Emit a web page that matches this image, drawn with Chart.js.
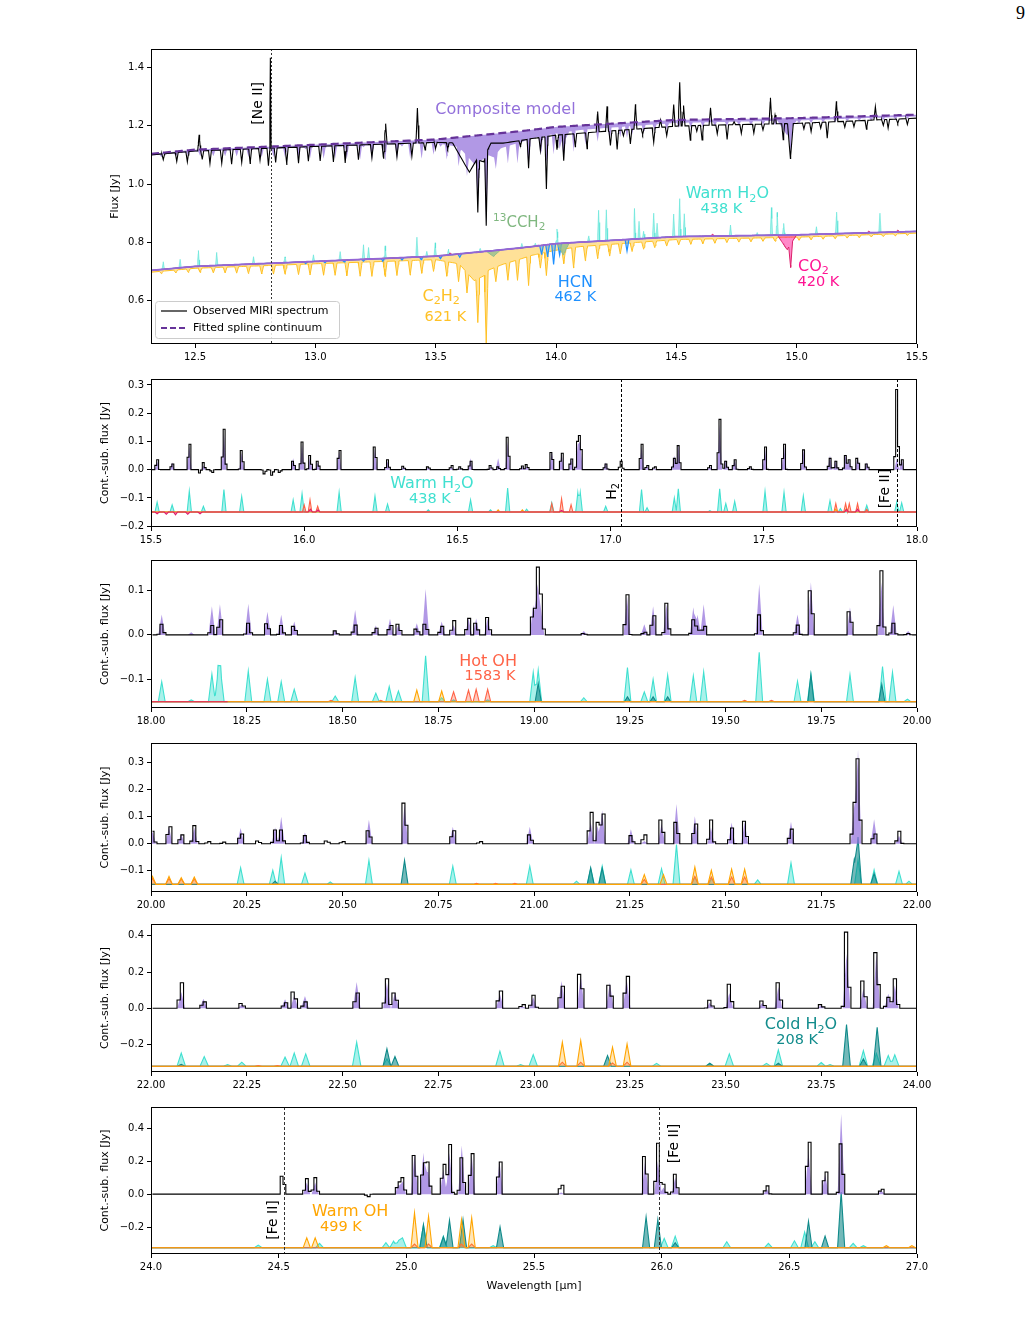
<!DOCTYPE html>
<html><head><meta charset="utf-8">
<script src="https://cdn.jsdelivr.net/npm/chart.js@4.4.1/dist/chart.umd.min.js"></script>
<style>
html,body{margin:0;padding:0;background:#fff;}
body{width:1033px;height:1317px;position:relative;overflow:hidden;}
canvas{position:absolute;left:0;}
#pg{position:absolute;left:1016px;top:3px;font:18px "Liberation Serif";color:#000;}
</style></head><body>
<div id="pg">9</div>
<canvas id="c1"></canvas><canvas id="c2"></canvas><canvas id="c3"></canvas>
<canvas id="c4"></canvas><canvas id="c5"></canvas><canvas id="c6"></canvas>
<script>
// ======================= DATA =======================
// ---- Panel 1 (12.3 - 15.5 um), absolute flux ----
const p1XRange = [12.317, 15.5];
const p1XTicks = [12.5, 13.0, 13.5, 14.0, 14.5, 15.0, 15.5];
const p1XLabels = ['12.5','13.0','13.5','14.0','14.5','15.0','15.5'];
const p1YRange = [0.452, 1.463];
const p1YTicks = [0.6, 0.8, 1.0, 1.2, 1.4];
const p1YLabels = ['0.6','0.8','1.0','1.2','1.4'];
// fitted spline continuum knots
const p1ContWave = [12.317, 12.5, 13.0, 13.5, 13.85, 14.0, 14.5, 15.0, 15.5];
const p1ContFlux = [1.104, 1.118, 1.135, 1.153, 1.181, 1.196, 1.220, 1.226, 1.238];
const p1ModelShift = 0.4;   // model components are shown 0.4 Jy lower
// observed: pseudo-continuum depression below spline [wave, depth]
const p1ObsDepWave = [12.317, 13.0, 13.5, 13.6, 13.78, 13.9, 14.2, 14.6, 15.0, 15.5];
const p1ObsDep     = [0.004, 0.006, 0.010, 0.020, 0.035, 0.030, 0.025, 0.020, 0.018, 0.012];
// observed lines [centre, amplitude (neg = absorption), half-width]
const p1ObsLines = [
 [12.368,-0.02],[12.424,-0.03],[12.468,-0.035],[12.517,0.055],[12.53,-0.03],[12.562,-0.045],[12.611,-0.045],
 [12.652,-0.05],[12.694,-0.045],[12.729,-0.05],[12.770,-0.04],[12.805,-0.06],[12.813,0.31,0.003],[12.835,-0.05],
 [12.881,-0.06],[12.930,-0.055],[12.971,-0.05],[13.020,-0.05],[13.075,-0.055],[13.124,-0.06],[13.179,-0.05],
 [13.235,-0.045],[13.283,-0.05],[13.292,0.07],[13.339,-0.045],[13.401,-0.045],[13.424,0.12],[13.456,-0.025],
 [13.50,-0.02],[13.55,-0.02],
 [13.64,-0.10,0.07],[13.70,-0.05,0.03],[13.675,-0.18],[13.71,-0.25],
 [13.852,-0.02],[13.886,-0.10],[13.935,-0.045],[13.96,-0.18],[14.004,-0.05],[14.032,-0.09],[14.08,-0.045],
 [14.129,-0.055],[14.173,0.07],[14.212,0.085],[14.226,-0.05],[14.254,-0.065],[14.28,-0.02],[14.309,-0.05],
 [14.33,0.085],[14.36,-0.02],[14.406,-0.05],[14.434,0.025],[14.46,-0.03],[14.489,0.075],[14.514,0.15],[14.53,0.07],
 [14.558,-0.05],[14.585,-0.02],[14.607,-0.05],[14.642,0.06],[14.67,-0.03],[14.711,-0.05],[14.74,0.01],[14.77,-0.03],
 [14.822,-0.03],[14.86,-0.02],[14.891,0.09],[14.91,0.03],[14.944,-0.055],[14.974,-0.12,0.012],[15.03,-0.02],
 [15.06,-0.03],[15.1,-0.02],[15.127,-0.055],[15.165,0.07],[15.2,-0.02],[15.238,-0.02],[15.29,-0.03],[15.327,0.045],
 [15.36,-0.02],[15.38,-0.03],[15.42,-0.015],[15.46,-0.02]
];
// C2H2 (621 K) absorption: smooth floor + lines [centre, depth, half-width]
const p1C2H2FloorWave = [12.317, 13.0, 13.5, 13.58, 13.70, 13.78, 13.90, 14.10, 14.50, 15.5];
const p1C2H2Floor     = [0.006, 0.008, 0.012, 0.030, 0.070, 0.050, 0.030, 0.015, 0.010, 0.006];
const p1C2H2Lines = [
 [12.36,0.008],[12.42,0.010],[12.472,0.012],[12.521,0.015],[12.576,0.018],[12.625,0.02],[12.673,0.022],[12.722,0.025],
 [12.777,0.028],[12.826,0.03],[12.874,0.032],[12.93,0.035],[12.978,0.038],[13.034,0.04],[13.082,0.042],[13.131,0.045],
 [13.186,0.048],[13.235,0.05],[13.29,0.052],[13.339,0.05],[13.394,0.05],[13.442,0.045],[13.491,0.04],[13.546,0.05],
 [13.595,0.06],[13.66,0.04,0.06],[13.63,0.07],[13.675,0.15],[13.71,0.24],
 [13.75,0.05],[13.80,0.06],[13.84,0.07],[13.886,0.10],[13.935,0.05],[13.96,0.08],[14.032,0.05],[14.073,0.07],
 [14.122,0.05],[14.173,0.045],[14.223,0.04],[14.267,0.035],[14.316,0.03],[14.364,0.025],[14.41,0.022],[14.46,0.02],
 [14.51,0.018],[14.56,0.017],[14.61,0.016],[14.66,0.015],[14.71,0.014],[14.76,0.013],[14.81,0.013],[14.86,0.012],
 [14.91,0.012],[15.01,0.011],[15.06,0.011],[15.11,0.010],[15.16,0.010],[15.21,0.009],[15.26,0.009],[15.31,0.008],
 [15.36,0.008],[15.41,0.007],[15.46,0.007]
];
const p1HCNLines = [
 [12.96,0.006],[13.04,0.006],[13.12,0.006],[13.20,0.006],[13.28,0.008],[13.36,0.008],[13.44,0.01],[13.52,0.01],
 [13.60,0.012],[13.94,0.03],[13.965,0.04],[13.99,0.07],[14.015,0.04],[14.295,0.04]
];
const p1C13Lines = [[13.74,0.02,0.03],[14.03,0.04,0.025]];
const p1CO2Lines = [[14.96,0.05,0.04],[14.975,0.08,0.008],[13.56,-0.006],[14.65,-0.006],[15.3,-0.006],[15.42,-0.006]];
const p1H2OLines = [
 [12.368,0.026],[12.438,0.029],[12.514,0.054],[12.59,0.045],[12.743,0.025],[12.874,0.02],[12.992,0.023],[13.103,0.03],
 [13.2,0.05],[13.221,0.04],[13.29,0.043],[13.422,0.068],[13.463,0.018],[13.498,0.046],[13.553,0.02],[13.685,0.012],
 [13.858,0.015],[13.914,0.01],[14.004,0.05],[14.136,0.02],[14.177,0.106],[14.209,0.106],[14.326,0.105],[14.345,0.06],
 [14.364,0.025],[14.406,0.085],[14.42,0.05],[14.489,0.078],[14.514,0.13],[14.533,0.078],[14.725,0.037],[14.836,0.01],
 [14.895,0.095],[14.919,0.078],[14.946,0.04],[15.082,0.026],[15.166,0.074],[15.346,0.066]
];
const p1NeII = 12.814;

// ---- Panels 2-6: continuum-subtracted. lines: [centre, observed peak, model peak]
const p2XRange = [15.5, 18.0];
const p2XTicks = [15.5, 16.0, 16.5, 17.0, 17.5, 18.0];
const p2XLabels = ['15.5','16.0','16.5','17.0','17.5','18.0'];
const p2YRange = [-0.203, 0.321];
const p2YTicks = [-0.2, -0.1, 0.0, 0.1, 0.2, 0.3];
const p2YLabels = ['\u22120.2','\u22120.1','0.0','0.1','0.2','0.3'];
const p2Lines = [
 [15.520,0.035,0.03],[15.569,0.02,0.025],[15.625,0.09,0.085],[15.66,-0.012,0],[15.671,0.025,0.015],[15.70,-0.01,0],
 [15.738,0.143,0.13],[15.796,0.068,0.06],[15.87,-0.015,0],[15.895,-0.02,0],[15.92,-0.01,0],[15.964,0.03,0.04],
 [15.993,0.098,0.09],[16.019,0.05,0.045],[16.044,0.03,0.025],[16.114,0.068,0.065],[16.231,0.08,0.075],
 [16.272,0.035,0.03],[16.323,0.012,0.01],[16.405,0.01,0.008],[16.481,0.015,0.01],[16.508,0.01,0.005],
 [16.543,0.03,0.04],[16.608,0.015,0.01],[16.633,0.01,0.04],[16.664,0.115,0.1],[16.712,0.013,0.01],
 [16.726,0.018,0.012],[16.808,0.061,0.065],[16.840,0.058,0.06],[16.871,0.038,0.04],[16.893,0.1,0.09],
 [16.901,0.121,0.1],[16.984,0.02,0.025],[17.034,0.03,0.0],[17.101,0.09,0.085],[17.119,0.015,0.012],
 [17.143,0.01,0.005],[17.208,0.04,0.05],[17.221,0.085,0.09],[17.324,0.015,0.01],[17.356,0.178,0.16],
 [17.376,0.03,0.035],[17.405,0.035,0.035],[17.455,0.01,0.005],[17.504,0.08,0.075],[17.566,0.09,0.085],
 [17.629,0.07,0.07],[17.716,0.04,0.05],[17.735,0.03,0.035],[17.767,0.05,0.055],[17.779,0.035,0.035],
 [17.806,0.04,0.045],[17.836,0.02,0.025],[17.934,0.284,0.04],[17.950,0.035,0.04]
];
const p2WarmH2O = [
 [15.520,0.035],[15.569,0.025],[15.625,0.074],[15.671,0.02],[15.738,0.08],[15.796,0.055],[15.964,0.043],[15.993,0.065],
 [16.114,0.07],[16.231,0.056],[16.272,0.028],[16.405,0.008],[16.543,0.043],[16.608,0.008],[16.664,0.085],[16.726,0.01],
 [16.808,0.033],[16.893,0.068],[16.901,0.07],[16.984,0.02],[17.101,0.08],[17.119,0.015],[17.208,0.05],[17.221,0.082],
 [17.324,0.005],[17.356,0.082],[17.376,0.03],[17.405,0.038],[17.504,0.073],[17.566,0.07],[17.629,0.057],[17.716,0.04],
 [17.750,0.012],[17.836,0.024],[17.934,0.035],[17.950,0.032]
];
const p2HotOH = [[16.00,0.025],[16.019,0.043],[16.044,0.02],[16.808,0.03],[16.840,0.047],[16.871,0.026],[17.735,0.03],[17.767,0.03],[17.779,0.03],[17.806,0.03],[17.836,0.01]];
const p2WarmOH = [[16.633,0.008],[16.712,0.008],[17.735,0.01],[17.77,0.012]];
const p2CO2 = [[15.52,-0.006],[15.55,-0.008],[15.58,-0.01],[15.62,-0.008],[15.66,-0.006],[16.02,0.01],[16.045,0.008],[16.84,0.006],[17.77,0.01],[17.806,0.01]];
const p2VLines = [17.035, 17.936];

const p3XRange = [18.0, 20.0];
const p3XTicks = [18.0, 18.25, 18.5, 18.75, 19.0, 19.25, 19.5, 19.75, 20.0];
const p3XLabels = ['18.00','18.25','18.50','18.75','19.00','19.25','19.50','19.75','20.00'];
const p3YRange = [-0.164, 0.168];
const p3YTicks = [-0.1, 0.0, 0.1];
const p3YLabels = ['\u22120.1','0.0','0.1'];
const p3Lines = [
 [18.028,0.024,0.046],[18.105,0.0,0.006],[18.159,0.021,0.064],[18.18,0.034,0.069],[18.254,0.026,0.07],[18.304,0.025,0.052],
 [18.34,0.021,0.045],[18.374,0.019,0.03],[18.481,0.009,0.011],[18.533,0.022,0.056],[18.587,0.015,0.021],[18.624,0.021,0.036],
 [18.646,0.024,0.024],[18.694,0.013,0.026],[18.717,0.024,0.103],[18.759,0.019,0.03],[18.79,0.032,0.022],[18.829,0.037,0.037],
 [18.849,0.026,0.037],[18.879,0.039,0.037],[18.998,0.04,0.067],[19.009,0.152,0.114],[19.018,0.091,0.06],[19.13,0.003,0.009],
 [19.243,0.09,0.086],[19.288,0.006,0.024],[19.311,0.043,0.064],[19.346,0.071,0.069],[19.416,0.034,0.062],[19.427,0.02,0.045],
 [19.443,0.019,0.069],[19.588,0.045,0.114],[19.688,0.022,0.046],[19.723,0.099,0.118],[19.825,0.052,0.062],[19.907,0.144,0.118],
 [19.938,0.026,0.067],[19.977,0.003,0.009]
];
const p3WarmH2O = [
 [18.028,0.045],[18.105,0.004],[18.159,0.062],[18.175,0.067],[18.182,0.066],[18.254,0.069],[18.304,0.05],[18.34,0.045],
 [18.374,0.028],[18.481,0.013],[18.533,0.054],[18.587,0.019],[18.622,0.034],[18.646,0.024],[18.717,0.103],[18.759,0.009],
 [18.79,0.004],[18.879,0.004],[18.998,0.066],[19.011,0.071],[19.13,0.009],[19.244,0.077],[19.288,0.022],[19.311,0.05],
 [19.349,0.06],[19.416,0.058],[19.443,0.067],[19.588,0.111],[19.688,0.046],[19.723,0.061],[19.825,0.061],[19.910,0.079],
 [19.936,0.066],[19.975,0.006]
];
const p3ColdH2O = [[19.011,0.041],[19.244,0.011],[19.311,0.011],[19.349,0.011],[19.723,0.061],[19.908,0.039]];
const p3WarmOH = [[18.694,0.026],[18.759,0.024]];
const p3HotOH = [[18.47,0.003],[18.6,0.003],[18.79,0.022],[18.829,0.026],[18.849,0.028],[18.879,0.028],[19.55,0.003],[19.62,0.003]];
const p3CO2 = [];
const p3CO2End = 18.2;

const p4XRange = [20.0, 22.0];
const p4XTicks = [20.0, 20.25, 20.5, 20.75, 21.0, 21.25, 21.5, 21.75, 22.0];
const p4XLabels = ['20.00','20.25','20.50','20.75','21.00','21.25','21.50','21.75','22.00'];
const p4YRange = [-0.178, 0.372];
const p4YTicks = [-0.1, 0.0, 0.1, 0.2, 0.3];
const p4YLabels = ['\u22120.1','0.0','0.1','0.2','0.3'];
const p4Lines = [
 [20.004,0.046,0.045],[20.047,0.063,0.063],[20.079,0.033,0.035],[20.113,0.067,0.06],[20.15,0.008,0],[20.19,0.006,0],
 [20.234,0.036,0.058],[20.28,0.01,0],[20.324,0.051,0.06],[20.34,0.051,0.1],[20.402,0.03,0.042],[20.46,0.01,0],[20.5,0.008,0],
 [20.569,0.048,0.089],[20.662,0.15,0.145],[20.788,0.048,0.063],[20.86,0.008,0],[20.989,0.033,0.063],[21.148,0.116,0.08],
 [21.166,0.079,0.067],[21.178,0.11,0.124],[21.253,0.03,0.054],[21.288,0.033,0.01],[21.333,0.088,0.075],[21.372,0.079,0.147],
 [21.42,0.073,0.102],[21.462,0.088,0.06],[21.516,0.058,0.079],[21.55,0.083,0.08],[21.671,0.054,0.081],[21.836,0.153,0.15],
 [21.846,0.314,0.347],[21.888,0.036,0.091],[21.953,0.046,0.03]
];
const p4WarmH2O = [
 [20.234,0.062],[20.318,0.052],[20.34,0.099],[20.402,0.042],[20.468,0.009],[20.569,0.089],[20.788,0.067],[20.989,0.067],
 [21.111,0.012],[21.148,0.058],[21.178,0.067],[21.253,0.054],[21.333,0.058],[21.372,0.147],[21.42,0.027],[21.464,0.021],
 [21.584,0.017],[21.671,0.079],[21.846,0.09],[21.888,0.054],[21.953,0.048],[21.979,0.012]
];
const p4ColdH2O = [[20.324,0.012],[20.662,0.089],[21.148,0.062],[21.178,0.06],[21.836,0.09],[21.846,0.175],[21.888,0.04]];
const p4WarmOH = [[20.004,0.03],[20.047,0.03],[20.079,0.025],[20.113,0.027],[21.288,0.036],[21.338,0.036],[21.42,0.064],[21.463,0.052],[21.516,0.056],[21.55,0.056]];
const p4HotOH = [[20.004,0.022],[20.047,0.022],[20.079,0.02],[20.113,0.02],[20.85,0.004],[20.9,0.004],[20.95,0.004],[21.288,0.018],[21.42,0.03],[21.463,0.027],[21.516,0.027],[21.55,0.027]];

const p5XRange = [22.0, 24.0];
const p5XTicks = [22.0, 22.25, 22.5, 22.75, 23.0, 23.25, 23.5, 23.75, 24.0];
const p5XLabels = ['22.00','22.25','22.50','22.75','23.00','23.25','23.50','23.75','24.00'];
const p5YRange = [-0.352, 0.465];
const p5YTicks = [-0.2, 0.0, 0.2, 0.4];
const p5YLabels = ['\u22120.2','0.0','0.2','0.4'];
const p5Lines = [
 [22.079,0.141,0.09],[22.137,0.035,0.053],[22.237,0.026,0.02],[22.35,0.03,0.05],[22.374,0.09,0.07],[22.402,0.035,0.068],
 [22.537,0.084,0.145],[22.616,0.163,0.14],[22.637,0.084,0.09],[22.911,0.095,0.08],[22.97,0.02,0.01],[22.998,0.072,0.06],
 [23.072,0.121,0.15],[23.122,0.187,0.18],[23.198,0.127,0.14],[23.242,0.176,0.16],[23.459,0.044,0.03],[23.51,0.132,0.084],
 [23.596,0.04,0.03],[23.638,0.141,0.117],[23.749,0.02,0.015],[23.816,0.42,0.301],[23.86,0.15,0.108],[23.894,0.307,0.3],
 [23.925,0.06,0.08],[23.942,0.163,0.127]
];
const p5WarmH2O = [
 [22.079,0.072],[22.139,0.053],[22.2,0.009],[22.237,0.022],[22.35,0.05],[22.374,0.072],[22.404,0.068],[22.537,0.132],
 [22.616,0.04],[22.911,0.083],[22.965,0.009],[22.998,0.064],[23.32,0.016],[23.459,0.016],[23.51,0.068],[23.607,0.016],
 [23.638,0.09],[23.75,0.02],[23.773,0.009],[23.86,0.086],[23.894,0.07],[23.925,0.059],[23.942,0.063]
];
const p5ColdH2O = [[22.079,0.01],[22.616,0.096],[22.637,0.053],[23.192,0.059],[23.459,0.016],[23.638,0.016],[23.816,0.23],[23.86,0.04],[23.896,0.215]];
const p5WarmOH = [[23.074,0.132],[23.122,0.141],[23.205,0.105],[23.243,0.123]];
const p5HotOH = [[22.28,0.004],[22.33,0.004],[23.074,0.022],[23.122,0.022],[23.205,0.018],[23.243,0.022]];

const p6XRange = [24.0, 27.0];
const p6XTicks = [24.0, 24.5, 25.0, 25.5, 26.0, 26.5, 27.0];
const p6XLabels = ['24.0','24.5','25.0','25.5','26.0','26.5','27.0'];
const p6YRange = [-0.362, 0.527];
const p6YTicks = [-0.2, 0.0, 0.2, 0.4];
const p6YLabels = ['\u22120.2','0.0','0.2','0.4'];
const p6Lines = [
 [24.516,0.108,0.0],[24.61,0.094,0.07],[24.643,0.1,0.07],[24.85,-0.015,0],[24.969,0.074,0.06],[24.985,0.1,0.08],
 [25.032,0.234,0.244],[25.067,0.19,0.25],[25.084,0.194,0.17],[25.145,0.18,0.15],[25.169,0.3,0.25],[25.217,0.22,0.294],
 [25.256,0.245,0.24],[25.365,0.194,0.2],[25.606,0.054,0.01],[25.935,0.228,0.2],[25.985,0.308,0.2],[26.007,0.06,0.04],
 [26.053,0.12,0.1],[26.412,0.05,0.03],[26.575,0.314,0.26],[26.64,0.134,0.12],[26.703,0.304,0.485],[26.86,0.03,0.02]
];
const p6WarmH2O = [
 [24.42,0.016],[24.66,0.026],[24.92,0.03],[24.95,0.04],[24.97,0.045],[24.985,0.06],[25.067,0.136],[25.145,0.07],[25.34,0.012],
 [26.010,0.056],[26.053,0.07],[26.255,0.036],[26.418,0.026],[26.52,0.042],[26.56,0.094],[26.60,0.036],[26.75,0.026],[26.79,0.012]
];
const p6ColdH2O = [[25.067,0.14],[25.145,0.066],[25.169,0.166],[25.222,0.17],[25.367,0.126],[25.939,0.186],[25.985,0.17],[26.053,0.03],[26.575,0.16],[26.64,0.07],[26.703,0.336]];
const p6WarmOH = [[24.61,0.06],[24.643,0.06],[25.032,0.21],[25.087,0.19],[25.216,0.17],[25.256,0.18],[26.88,0.012],[26.98,0.012]];
const p6HotOH = [[25.032,0.022],[25.087,0.022],[25.216,0.022],[25.256,0.022]];
const p6VLines = [24.519, 25.988];

// ======================= HELPERS =======================
const FONT = '"DejaVu Sans"';
function interp(xs, ys, x){
  if (x <= xs[0]) return ys[0];
  for (let i = 1; i < xs.length; i++) if (x <= xs[i]) { const t = (x - xs[i-1])/(xs[i]-xs[i-1]); return ys[i-1] + t*(ys[i]-ys[i-1]); }
  return ys[ys.length-1];
}
function lineSum(lines, hw, x){
  let s = 0;
  for (const l of lines){ const w = l[2] || hw; const d = Math.abs(x - l[0]); if (d < w) s += l[1]*(1 - d/w); }
  return s;
}
function breaks(lines, hw){ const a = []; for (const l of lines){ const w = l[2] || hw; a.push(l[0]-w, l[0], l[0]+w); } return a; }
function uniq(arrs, lo, hi){
  const a = [].concat(...arrs).filter(v => v >= lo && v <= hi); a.push(lo, hi); a.sort((p,q)=>p-q);
  const o = []; for (const v of a) if (!o.length || v - o[o.length-1] > 1e-7) o.push(v); return o;
}
function stepObs(lines, hw, bin, lo, hi){
  const pts = [];
  for (let a = lo; a < hi - 1e-9; a += bin){
    const b = Math.min(a + bin, hi), m = (a + b)/2;
    let v = lineSum(lines, hw, m);
    for (const l of lines) if (l[0] >= a && l[0] < b){ const w = lineSum(lines, hw, l[0]); if (Math.abs(w) > Math.abs(v)) v = w; }
    pts.push({x:m, y:v});
  }
  return pts;
}

// ======================= STYLES =======================
const COL = {
  obs:'#000000', model:'rgba(147,112,219,0.72)', cont:'#663399', lowCont:'#9466d6',
  wH2O:['#40E0D0','rgba(64,224,208,0.45)'], cH2O:['#0f8a8a','rgba(0,128,128,0.55)'],
  wOH:['#FFA500','rgba(255,165,0,0.28)'], hOH:['#FF6347','rgba(255,99,71,0.35)'],
  co2:['#DC1F6A','rgba(255,20,147,0.5)'], c2h2:['#FFC125','rgba(255,196,50,0.5)'],
  hcn:['#1E90FF','rgba(30,144,255,0.35)'], c13:['#8FBC8F','rgba(143,188,143,0.75)']
};

const decoPlugin = {
  id:'deco',
  afterDraw(chart, args, o){
    const {ctx, chartArea:a} = chart; const xs = chart.scales.x, ys = chart.scales.y;
    ctx.save();
    (o.vlines || []).forEach(v => {
      const px = Math.round(xs.getPixelForValue(v.x)) + 0.5;
      ctx.strokeStyle = v.color; ctx.lineWidth = 1; ctx.setLineDash(v.dash);
      ctx.beginPath(); ctx.moveTo(px, a.top); ctx.lineTo(px, a.bottom); ctx.stroke();
    });
    ctx.setLineDash([]);
    ctx.strokeStyle = '#000'; ctx.lineWidth = 1;
    ctx.strokeRect(a.left + 0.5, a.top + 0.5, a.right - a.left - 1, a.bottom - a.top - 1);
    (o.labels || []).forEach(L => {
      const px = xs.getPixelForValue(L.x), py = ys.getPixelForValue(L.y);
      ctx.save(); ctx.translate(px, py); if (L.rot) ctx.rotate(-Math.PI/2);
      rich(ctx, L.parts, 0, 0, L.size, L.color); ctx.restore();
    });
    if (o.legend){
      const x0 = a.left + 4, y0 = a.bottom - 43, w = 184, h = 37;
      ctx.fillStyle = 'rgba(255,255,255,0.85)'; ctx.strokeStyle = '#cccccc'; ctx.lineWidth = 1;
      ctx.beginPath(); ctx.roundRect(x0 + 0.5, y0 + 0.5, w, h, 3); ctx.fill(); ctx.stroke();
      o.legend.forEach((e, i) => {
        const yy = y0 + 10 + i*17;
        ctx.strokeStyle = e.color; ctx.lineWidth = e.width; ctx.setLineDash(e.dash);
        ctx.beginPath(); ctx.moveTo(x0 + 6, yy); ctx.lineTo(x0 + 32, yy); ctx.stroke(); ctx.setLineDash([]);
        ctx.fillStyle = '#000'; ctx.font = '11px ' + FONT; ctx.textAlign = 'left'; ctx.textBaseline = 'middle';
        ctx.fillText(e.text, x0 + 38, yy);
      });
    }
    ctx.restore();
  }
};
Chart.register(decoPlugin);

function rich(ctx, parts, cx, cy, size, color){
  const segs = parts.map(([t, m]) => { const s = m ? size*0.7 : size; ctx.font = s + 'px ' + FONT; return {t, m, s, w: ctx.measureText(t).width}; });
  const W = segs.reduce((p, g) => p + g.w, 0);
  let xx = cx - W/2; const base = cy + size*0.36;
  ctx.fillStyle = color; ctx.textAlign = 'left'; ctx.textBaseline = 'alphabetic';
  segs.forEach(g => { ctx.font = g.s + 'px ' + FONT; const dy = g.m === 'sub' ? size*0.22 : g.m === 'sup' ? -size*0.38 : 0; ctx.fillText(g.t, xx, base + dy); xx += g.w; });
}

function scalesFor(xr, xt, xl, yr, yt, yl, ytitle, ytp, xh, xtitle){
  const tickFont = {family:'DejaVu Sans', size:10};
  return {
    x: { type:'linear', min:xr[0], max:xr[1],
      afterBuildTicks: s => { s.ticks = xt.map(v => ({value:v})); },
      afterFit: s => { s.height = xh; },
      ticks: { callback: v => xl[xt.indexOf(v)], autoSkip:false, maxRotation:0, padding:3, color:'#000', font:tickFont },
      grid: { display:true, drawOnChartArea:false, drawTicks:true, tickLength:4, color:'#000', lineWidth:1 },
      border: { display:false },
      title: xtitle ? { display:true, text:xtitle, color:'#000', font:{family:'DejaVu Sans', size:11}, padding:{top:0, bottom:5} } : {display:false}
    },
    y: { type:'linear', min:yr[0], max:yr[1],
      afterBuildTicks: s => { s.ticks = yt.map(v => ({value:v})); },
      afterFit: s => { s.width = 151; },
      ticks: { callback: v => yl[yt.indexOf(v)], autoSkip:false, padding:3, color:'#000', font:tickFont },
      grid: { display:true, drawOnChartArea:false, drawTicks:true, tickLength:4, color:'#000', lineWidth:1 },
      border: { display:false },
      title: { display:true, text:ytitle, color:'#000', font:{family:'DejaVu Sans', size:11}, padding:{top:ytp, bottom:0} }
    }
  };
}

function makeChart(id, plotTop, plotBottom, xh, datasets, scales, deco){
  const c = document.getElementById(id);
  const H = (plotBottom - plotTop) + 10 + xh;
  c.width = 1033; c.height = H; c.style.top = (plotTop - 10) + 'px'; c.style.width = '1033px'; c.style.height = H + 'px';
  return new Chart(c, { type:'line', data:{datasets},
    options:{ responsive:false, animation:false, devicePixelRatio:1, parsing:false, normalized:true, events:[],
      layout:{ padding:{ left:0, right:116, top:10, bottom:0 } },
      elements:{ point:{ radius:0 }, line:{ tension:0 } },
      scales, plugins:{ legend:{display:false}, tooltip:{enabled:false}, deco } } });
}

// ======================= PANEL 1 =======================
(function(){
  const hwO = 0.006, hw = 0.008, hwE = 0.005;
  const X = uniq([breaks(p1ObsLines, hwO), breaks(p1C2H2Lines, hw), breaks(p1HCNLines, hw), breaks(p1C13Lines, hw),
                  breaks(p1CO2Lines, hw), breaks(p1H2OLines, hwE), p1ContWave, p1ObsDepWave, p1C2H2FloorWave], p1XRange[0], p1XRange[1]);
  const cont = x => interp(p1ContWave, p1ContFlux, x);
  const c2h2 = x => interp(p1C2H2FloorWave, p1C2H2Floor, x) + lineSum(p1C2H2Lines, hw, x);
  const hcn = x => lineSum(p1HCNLines, hw, x), c13 = x => lineSum(p1C13Lines, hw, x), co2 = x => lineSum(p1CO2Lines, hw, x);
  const h2o = x => lineSum(p1H2OLines, hwE, x);
  const low = x => cont(x) - p1ModelShift;
  const pts = f => X.map(x => ({x, y:f(x)}));
  const ds = [
    {data:pts(cont), borderColor:COL.cont, borderWidth:2.2, borderDash:[8,4], fill:false},
    {data:pts(x => cont(x) - interp(p1ObsDepWave, p1ObsDep, x) + lineSum(p1ObsLines, hwO, x)), borderColor:'#000', borderWidth:1.1, fill:false},
    {data:pts(x => cont(x) - c2h2(x) - hcn(x) - c13(x) - Math.max(co2(x), 0)), borderColor:'rgba(0,0,0,0)', borderWidth:0, backgroundColor:COL.model, fill:0},
    {data:pts(low), borderColor:COL.lowCont, borderWidth:1.8, fill:false},
    {data:pts(x => low(x) - co2(x)), borderColor:COL.co2[0], borderWidth:1, backgroundColor:COL.co2[1], fill:3},
    {data:pts(x => low(x) - c13(x)), borderColor:COL.c13[0], borderWidth:1, backgroundColor:COL.c13[1], fill:3},
    {data:pts(x => low(x) - hcn(x)), borderColor:COL.hcn[0], borderWidth:1.2, backgroundColor:COL.hcn[1], fill:3},
    {data:pts(x => low(x) - c2h2(x)), borderColor:COL.c2h2[0], borderWidth:1, backgroundColor:COL.c2h2[1], fill:3},
    {data:pts(x => low(x) + h2o(x)), borderColor:'rgba(64,224,208,0.6)', borderWidth:0.8, backgroundColor:COL.wH2O[1], fill:3}
  ];
  const deco = {
    vlines:[{x:p1NeII, color:'#333', dash:[2,2]}],
    labels:[
      {x:13.79, y:1.26, parts:[['Composite model','']], size:16, color:'#9370DB'},
      {x:12.758, y:1.277, parts:[['[Ne II]','']], size:14, color:'#000', rot:true},
      {x:13.847, y:0.873, parts:[['13','sup'],['CCH',''],['2','sub']], size:15, color:'#7fb77f'},
      {x:14.712, y:0.972, parts:[['Warm H',''],['2','sub'],['O','']], size:16, color:'#40E0D0'},
      {x:14.687, y:0.918, parts:[['438 K','']], size:14.5, color:'#40E0D0'},
      {x:14.08, y:0.667, parts:[['HCN','']], size:16, color:'#1E90FF'},
      {x:14.08, y:0.616, parts:[['462 K','']], size:14.5, color:'#1E90FF'},
      {x:13.523, y:0.62, parts:[['C',''],['2','sub'],['H',''],['2','sub']], size:16, color:'#FFC125'},
      {x:13.54, y:0.548, parts:[['621 K','']], size:14.5, color:'#FFC125'},
      {x:15.07, y:0.722, parts:[['CO',''],['2','sub']], size:16, color:'#FF1493'},
      {x:15.09, y:0.668, parts:[['420 K','']], size:14.5, color:'#FF1493'}
    ],
    legend:[
      {text:'Observed MIRI spectrum', color:'#000', width:1.2, dash:[]},
      {text:'Fitted spline continuum', color:COL.cont, width:2, dash:[6,3]}
    ]
  };
  makeChart('c1', 49, 344, 30, ds, scalesFor(p1XRange, p1XTicks, p1XLabels, p1YRange, p1YTicks, p1YLabels, 'Flux [Jy]', 109, 30), deco);
})();

// ======================= PANELS 2-6 =======================
function compDS(lines, hw, off, col, lo, hi){
  const X = uniq([breaks(lines, hw)], lo, hi);
  return {data:X.map(x => ({x, y: off + lineSum(lines, hw, x)})), borderColor:col[0], borderWidth:1.1, backgroundColor:col[1], fill:{value:off}};
}
function panel(id, top, bottom, xh, xr, xt, xl, yr, yt, yl, lines, comps, off, bin, hwO, hwM, deco, xtitle){
  const obsL = lines.map(l => [l[0], l[1]]), modL = lines.filter(l => l[2] !== 0).map(l => [l[0], l[2]]);
  const MX = uniq([breaks(modL, hwM)], xr[0], xr[1]);
  const ds = [
    {data:stepObs(obsL, hwO, bin, xr[0], xr[1]), borderColor:'#000', borderWidth:1.1, stepped:'middle', fill:false},
    {data:MX.map(x => ({x, y:lineSum(modL, hwM, x)})), borderColor:'rgba(0,0,0,0)', borderWidth:0, backgroundColor:COL.model, fill:'origin'}
  ];
  comps.forEach(c => ds.push(compDS(c.lines, c.hw, off, c.col, c.lo ?? xr[0], c.hi ?? xr[1])));
  makeChart(id, top, bottom, xh, ds, scalesFor(xr, xt, xl, yr, yt, yl, 'Cont.-sub. flux [Jy]', 99, xh, xtitle), deco);
}

panel('c2', 379, 527, 30, p2XRange, p2XTicks, p2XLabels, p2YRange, p2YTicks, p2YLabels, p2Lines, [
  {lines:p2CO2, hw:0.007, col:COL.co2},
  {lines:p2WarmOH, hw:0.006, col:COL.wOH},
  {lines:p2HotOH, hw:0.006, col:COL.hOH},
  {lines:p2WarmH2O, hw:0.007, col:COL.wH2O}
], -0.15, 0.0062, 0.008, 0.008, {
  vlines: p2VLines.map(v => ({x:v, color:'#000', dash:[3,2]})),
  labels:[
    {x:16.417, y:-0.046, parts:[['Warm H',''],['2','sub'],['O','']], size:16, color:'#40E0D0'},
    {x:16.41, y:-0.099, parts:[['438 K','']], size:14.5, color:'#40E0D0'},
    {x:17.001, y:-0.077, parts:[['H',''],['2','sub']], size:14, color:'#000', rot:true},
    {x:17.892, y:-0.067, parts:[['[Fe II]','']], size:14, color:'#000', rot:true}
  ]});

panel('c3', 560, 708, 30, p3XRange, p3XTicks, p3XLabels, p3YRange, p3YTicks, p3YLabels, p3Lines, [
  {lines:p3CO2, hw:0.008, col:COL.co2, hi:p3CO2End},
  {lines:p3WarmOH, hw:0.008, col:COL.wOH},
  {lines:p3HotOH, hw:0.008, col:COL.hOH},
  {lines:p3ColdH2O, hw:0.008, col:COL.cH2O},
  {lines:p3WarmH2O, hw:0.009, col:COL.wH2O}
], -0.15, 0.0078, 0.009, 0.009, {
  labels:[
    {x:18.88, y:-0.056, parts:[['Hot OH','']], size:16, color:'#FF6347'},
    {x:18.885, y:-0.09, parts:[['1583 K','']], size:14.5, color:'#FF6347'}
  ]});

panel('c4', 743, 892, 30, p4XRange, p4XTicks, p4XLabels, p4YRange, p4YTicks, p4YLabels, p4Lines, [
  {lines:p4WarmOH, hw:0.009, col:COL.wOH},
  {lines:p4HotOH, hw:0.009, col:COL.hOH},
  {lines:p4ColdH2O, hw:0.009, col:COL.cH2O},
  {lines:p4WarmH2O, hw:0.009, col:COL.wH2O}
], -0.15, 0.0078, 0.009, 0.009, {labels:[]});

panel('c5', 924, 1072, 30, p5XRange, p5XTicks, p5XLabels, p5YRange, p5YTicks, p5YLabels, p5Lines, [
  {lines:p5WarmOH, hw:0.01, col:COL.wOH},
  {lines:p5HotOH, hw:0.01, col:COL.hOH},
  {lines:p5ColdH2O, hw:0.01, col:COL.cH2O},
  {lines:p5WarmH2O, hw:0.011, col:COL.wH2O}
], -0.32, 0.0085, 0.01, 0.01, {
  labels:[
    {x:23.697, y:-0.083, parts:[['Cold H',''],['2','sub'],['O','']], size:16, color:'#128c8c'},
    {x:23.687, y:-0.171, parts:[['208 K','']], size:14.5, color:'#128c8c'}
  ]});

panel('c6', 1107, 1254, 44, p6XRange, p6XTicks, p6XLabels, p6YRange, p6YTicks, p6YLabels, p6Lines, [
  {lines:p6WarmOH, hw:0.014, col:COL.wOH},
  {lines:p6HotOH, hw:0.014, col:COL.hOH},
  {lines:p6ColdH2O, hw:0.014, col:COL.cH2O},
  {lines:p6WarmH2O, hw:0.015, col:COL.wH2O}
], -0.324, 0.011, 0.014, 0.014, {
  vlines: p6VLines.map(v => ({x:v, color:'#333', dash:[3,2]})),
  labels:[
    {x:24.78, y:-0.096, parts:[['Warm OH','']], size:16, color:'#FFA500'},
    {x:24.744, y:-0.192, parts:[['499 K','']], size:14.5, color:'#FFA500'},
    {x:24.474, y:-0.156, parts:[['[Fe II]','']], size:14, color:'#000', rot:true},
    {x:26.045, y:0.306, parts:[['[Fe II]','']], size:14, color:'#000', rot:true}
  ]}, 'Wavelength [\u00b5m]');
</script>
</body></html>
